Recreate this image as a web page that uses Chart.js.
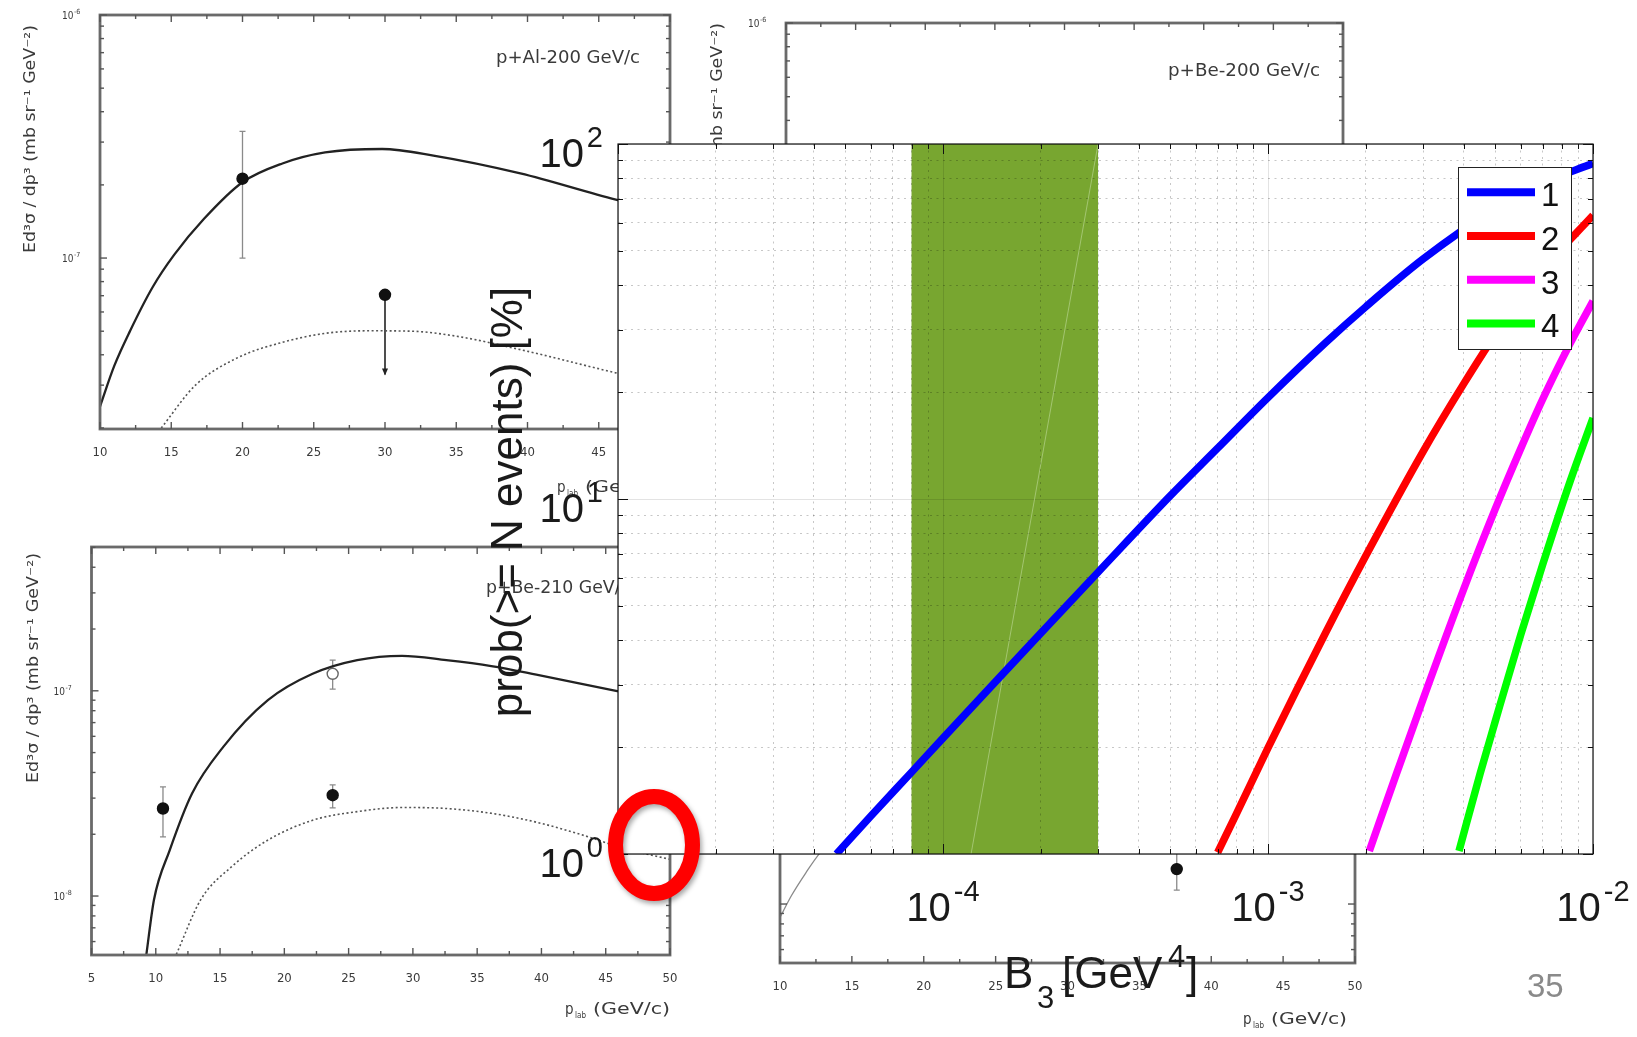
<!DOCTYPE html>
<html>
<head>
<meta charset="utf-8">
<title>prob(&gt;= N events) vs B3</title>
<script src="https://cdn.jsdelivr.net/npm/chart.js@4.4.1/dist/chart.umd.min.js"></script>
<style>
  html, body { margin: 0; padding: 0; background: #fff; }
  body { width: 1637px; height: 1037px; position: relative; overflow: hidden; }
  canvas { position: absolute; left: 0; top: 0; }
  .scan { filter: blur(0.75px); }
</style>
</head>
<body>
<canvas id="scanAl200" class="scan" width="1637" height="1037"></canvas>
<canvas id="scanBe200" class="scan" width="1637" height="1037"></canvas>
<canvas id="scanBe210" class="scan" width="1637" height="1037"></canvas>
<canvas id="scanBeLow" class="scan" width="1637" height="1037"></canvas>
<canvas id="probChart" width="1637" height="1037"></canvas>
<script>
// ---- probability of at least N events vs B3 ----
const b3N1 = [4.7e-5, 6e-5, 8e-5, 1e-4, 1.5e-4, 2e-4, 3e-4, 5e-4, 7e-4, 1e-3, 1.5e-3, 2e-3, 3e-3, 5e-3, 7e-3, 1e-2];
const probN1 = [1.0, 1.28, 1.70, 2.12, 3.16, 4.19, 6.22, 10.2, 13.9, 19.3, 27.5, 34.8, 47.4, 65.7, 77.6, 88.2];
const b3N2 = [7e-4, 8e-4, 1e-3, 1.5e-3, 2e-3, 3e-3, 4e-3, 5e-3, 7e-3, 1e-2];
const probN2 = [1.01, 1.30, 1.99, 4.18, 6.92, 13.6, 21.1, 29.0, 44.1, 63.0];
const b3N3 = [2.05e-3, 2.5e-3, 3e-3, 4e-3, 5e-3, 6e-3, 7e-3, 8.5e-3, 1e-2];
const probN3 = [1.02, 1.71, 2.73, 5.57, 9.36, 13.9, 19.1, 27.4, 36.1];
const b3N4 = [3.87e-3, 4.5e-3, 5e-3, 6e-3, 7e-3, 8.5e-3, 1e-2];
const probN4 = [1.02, 1.69, 2.36, 4.16, 6.53, 11.2, 16.9];

const seriesLabels = ['1', '2', '3', '4'];
const seriesColors = ['#0000ff', '#ff0000', '#ff00ff', '#00ff00'];

// shaded B3 interval and the thin seam running across it
const b3Band = [8e-5, 3e-4];
const b3Seam = [3e-4, 1.22e-4];
const probSeam = [100, 1];

const xDecades = [-5, -4, -3, -2];
const yDecades = [0, 1, 2];
const xLabelDecades = [-4, -3, -2];
const yLabelDecades = [0, 1, 2];
const minorMultiples = [2, 3, 4, 5, 6, 7, 8, 9];

// ---- cross-section panels in the background ----
const alSolidP = [10, 11, 12.1, 13.7, 15.2, 17.3, 20, 22.8, 25.8, 29.8, 33.4, 39.5, 46.2, 50];
const alSolidSig = [2.45e-8, 3.6e-8, 5.0e-8, 7.6e-8, 1.03e-7, 1.45e-7, 2.05e-7, 2.45e-7, 2.72e-7, 2.81e-7, 2.64e-7, 2.23e-7, 1.74e-7, 1.55e-7];
const alDotP = [14.3, 16.7, 19.7, 22.8, 25.8, 28.9, 31.9, 35, 39.5, 46.2, 50];
const alDotSig = [2.0e-8, 3.0e-8, 3.9e-8, 4.5e-8, 4.9e-8, 5.02e-8, 5.0e-8, 4.77e-8, 4.2e-8, 3.37e-8, 3.0e-8];
const alPointP = [20, 30];
const alPointSig = [2.12e-7, 7.06e-8];
const alErrLow = [1.0e-7, 3.32e-8];
const alErrHigh = [3.32e-7, 7.06e-8];
const alUpperLimit = [false, true];

const be210SolidP = [9.27, 9.86, 11.08, 12.82, 15.25, 18.72, 22.2, 25.67, 29.15, 32.6, 36.1, 39.6, 45.8, 50];
const be210SolidSig = [5.2e-9, 9.6e-9, 1.67e-8, 3.16e-8, 5.33e-8, 9.0e-8, 1.21e-7, 1.41e-7, 1.48e-7, 1.41e-7, 1.32e-7, 1.2e-7, 1.0e-7, 8.9e-8];
const be210DotP = [11.6, 13.5, 15.9, 18.7, 22.2, 25.7, 29.2, 32.6, 36.1, 39.6, 43, 46.5, 50];
const be210DotSig = [5.2e-9, 9.6e-9, 1.39e-8, 1.87e-8, 2.34e-8, 2.58e-8, 2.70e-8, 2.67e-8, 2.53e-8, 2.29e-8, 2.0e-8, 1.7e-8, 1.51e-8];
const be210PointP = [10.56, 23.76, 23.76];
const be210PointSig = [2.67e-8, 3.10e-8, 1.21e-7];
const be210ErrLow = [1.94e-8, 2.69e-8, 1.02e-7];
const be210ErrHigh = [3.4e-8, 3.48e-8, 1.41e-7];
const be210Open = [false, false, true];

const beLowP = [10, 10.8, 11.8, 12.8, 14.5, 17];
const beLowSig = [8.6e-9, 1.1e-8, 1.42e-8, 1.78e-8, 2.3e-8, 3.0e-8];
const beLowPointP = [37.6];
const beLowPointSig = [1.48e-8];
const beLowErrLow = [1.17e-8];
const beLowErrHigh = [1.8e-8];

const pLabTicks10 = [10, 15, 20, 25, 30, 35, 40, 45, 50];
const pLabTicks5 = [5, 10, 15, 20, 25, 30, 35, 40, 45, 50];

const mainFont = "'Liberation Sans', Arial, Helvetica, sans-serif";
const scanFont = "'DejaVu Sans Condensed', 'Liberation Sans Narrow', 'DejaVu Sans', sans-serif";
const W = 1637, H = 1037;

function pairs(xs, ys) {
  return xs.map((v, i) => ({ x: v, y: ys[i] }));
}

// draw text squeezed/stretched to a given width
function fitText(ctx, text, x, y, width) {
  const w = ctx.measureText(text).width;
  ctx.save();
  ctx.translate(x, y);
  ctx.scale(width / w, 1);
  ctx.fillText(text, 0, 0);
  ctx.restore();
}

// ---------- background panels ----------
const panelDecor = {
  scanAl200: {
    xTicks: pLabTicks10, yDecades: [-8, -7, -6], yLabels: [-7, -6],
    title: ['p+Al-200 GeV/c', 496, 63, 144],
    yTitle: [30, 139, 228], xTitle: [557, 492, 105],
    points: [alPointP, alPointSig, alErrLow, alErrHigh, alUpperLimit]
  },
  scanBe200: {
    xTicks: pLabTicks10, yDecades: [-8, -7, -6], yLabels: [-6],
    title: ['p+Be-200 GeV/c', 1168, 76, 152],
    yTitle: [717, 137, 228], xTitle: null, points: null
  },
  scanBe210: {
    xTicks: pLabTicks5, yDecades: [-9, -8, -7], yLabels: [-8, -7],
    title: ['p+Be-210 GeV/c', 486, 593, 144],
    yTitle: [33, 668, 230], xTitle: [565, 1014, 105],
    points: [be210PointP, be210PointSig, be210ErrLow, be210ErrHigh, null]
  },
  scanBeLow: {
    xTicks: pLabTicks10, yDecades: [-9, -8, -7], yLabels: [],
    title: null, yTitle: null, xTitle: [1243, 1024, 104],
    points: [beLowPointP, beLowPointSig, beLowErrLow, beLowErrHigh, null]
  }
};

const scanFrame = {
  id: 'scanFrame',
  beforeDatasetsDraw(chart) {
    const d = panelDecor[chart.canvas.id];
    if (!d.points) return;
    const { ctx } = chart;
    const x = chart.scales.x, y = chart.scales.y;
    const [ps, sig, lo, hi, limit] = d.points;
    ctx.save();
    ps.forEach((p, i) => {
      const px = x.getPixelForValue(p);
      if (limit && limit[i]) {
        // upper limit: line with a small arrow head
        const y0 = y.getPixelForValue(sig[i]), y1 = y.getPixelForValue(lo[i]);
        ctx.strokeStyle = '#222'; ctx.fillStyle = '#222'; ctx.lineWidth = 1.6;
        ctx.beginPath(); ctx.moveTo(px, y0); ctx.lineTo(px, y1); ctx.stroke();
        ctx.beginPath(); ctx.moveTo(px - 3, y1 - 6); ctx.lineTo(px + 3, y1 - 6); ctx.lineTo(px, y1 + 1); ctx.closePath(); ctx.fill();
      } else {
        const y0 = y.getPixelForValue(hi[i]), y1 = y.getPixelForValue(lo[i]);
        ctx.strokeStyle = '#8a8a8a'; ctx.lineWidth = 1.3;
        ctx.beginPath();
        ctx.moveTo(px, y0); ctx.lineTo(px, y1);
        ctx.moveTo(px - 3, y0); ctx.lineTo(px + 3, y0);
        ctx.moveTo(px - 3, y1); ctx.lineTo(px + 3, y1);
        ctx.stroke();
      }
    });
    ctx.restore();
  },
  afterDraw(chart) {
    const d = panelDecor[chart.canvas.id];
    const { ctx, chartArea: a } = chart;
    const x = chart.scales.x, y = chart.scales.y;
    ctx.save();
    ctx.strokeStyle = '#6a6a6a';
    ctx.lineWidth = 2.8;
    ctx.strokeRect(a.left, a.top, a.right - a.left, a.bottom - a.top);

    ctx.strokeStyle = '#555';
    ctx.lineWidth = 1.4;
    const tick = (px, py, dx, dy) => { ctx.beginPath(); ctx.moveTo(px, py); ctx.lineTo(px + dx, py + dy); ctx.stroke(); };
    d.xTicks.forEach((v, i) => {
      const px = x.getPixelForValue(v);
      tick(px, a.bottom, 0, -7); tick(px, a.top, 0, 7);
      if (i < d.xTicks.length - 1) {
        const pm = x.getPixelForValue((v + d.xTicks[i + 1]) / 2);
        tick(pm, a.bottom, 0, -4); tick(pm, a.top, 0, 4);
      }
    });
    d.yDecades.forEach(dec => {
      for (let m = 1; m <= 9; m++) {
        const v = m * Math.pow(10, dec);
        if (v < y.min || v > y.max) continue;
        const py = y.getPixelForValue(v);
        const len = m === 1 ? 7 : 4;
        tick(a.left, py, len, 0); tick(a.right, py, -len, 0);
      }
    });

    ctx.fillStyle = '#3a3a3a';
    ctx.textBaseline = 'alphabetic';
    ctx.textAlign = 'left';
    ctx.font = `13px ${scanFont}`;
    d.xTicks.forEach(v => {
      const s = String(v);
      const w = ctx.measureText(s).width;
      ctx.fillText(s, x.getPixelForValue(v) - w / 2, a.bottom + 27);
    });
    d.yLabels.forEach(dec => {
      const py = y.getPixelForValue(Math.pow(10, dec));
      ctx.font = `10px ${scanFont}`;
      ctx.fillText('10', a.left - 38, py + 4);
      ctx.font = `7px ${scanFont}`;
      ctx.fillText(String(dec), a.left - 26, py - 1);
    });
    if (d.title) {
      ctx.font = `17px ${scanFont}`;
      fitText(ctx, d.title[0], d.title[1], d.title[2], d.title[3]);
    }
    if (d.yTitle) {
      ctx.save();
      ctx.translate(d.yTitle[0] + 5, d.yTitle[1]);
      ctx.rotate(-Math.PI / 2);
      ctx.font = `15px ${scanFont}`;
      const t = 'Ed³σ / dp³ (mb sr⁻¹ GeV⁻²)';
      fitText(ctx, t, -d.yTitle[2] / 2, 0, d.yTitle[2]);
      ctx.restore();
    }
    if (d.xTitle) {
      const [tx, ty, tw] = d.xTitle;
      ctx.font = `15px ${scanFont}`;
      ctx.fillText('p', tx, ty);
      ctx.font = `8px ${scanFont}`;
      ctx.fillText('lab', tx + 10, ty + 4);
      ctx.font = `15px ${scanFont}`;
      fitText(ctx, '(GeV/c)', tx + 28, ty, tw - 28);
    }
    ctx.restore();
  }
};

function scanPanel(id, area, xRange, yRange, datasets) {
  return new Chart(document.getElementById(id), {
    type: 'scatter',
    data: { datasets },
    options: {
      responsive: false,
      animation: false,
      events: [],
      layout: { padding: { left: area[0], top: area[1], right: W - area[2], bottom: H - area[3] } },
      scales: {
        x: { type: 'linear', display: false, min: xRange[0], max: xRange[1] },
        y: { type: 'logarithmic', display: false, min: yRange[0], max: yRange[1] }
      },
      plugins: { legend: { display: false }, tooltip: { enabled: false } }
    },
    plugins: [scanFrame]
  });
}

const solidStyle = { showLine: true, pointRadius: 0, borderColor: '#222222', borderWidth: 2.3, cubicInterpolationMode: 'monotone' };
const dottedStyle = { showLine: true, pointRadius: 0, borderColor: '#555555', borderWidth: 1.6, borderDash: [2, 2.5], cubicInterpolationMode: 'monotone' };
const markerStyle = (open) => ({
  showLine: false, pointRadius: 5.5, pointStyle: 'circle',
  pointBackgroundColor: open.map(o => o ? '#ffffff' : '#111111'),
  pointBorderColor: open.map(o => o ? '#666666' : '#111111'),
  pointBorderWidth: 1.4
});

scanPanel('scanAl200', [100, 15, 670, 429], [10, 50], [1.98e-8, 1e-6], [
  { data: pairs(alPointP, alPointSig), ...markerStyle([false, false]) },
  { data: pairs(alSolidP, alSolidSig), ...solidStyle },
  { data: pairs(alDotP, alDotSig), ...dottedStyle }
]);
scanPanel('scanBe200', [786, 23, 1343, 440], [10, 50], [1.98e-8, 1e-6], []);
scanPanel('scanBe210', [91.5, 547, 670, 955], [5, 50], [5.16e-9, 5.02e-7], [
  { data: pairs(be210PointP, be210PointSig), ...markerStyle(be210Open) },
  { data: pairs(be210SolidP, be210SolidSig), ...solidStyle },
  { data: pairs(be210DotP, be210DotSig), ...dottedStyle }
]);
scanPanel('scanBeLow', [780, 555, 1355, 963], [10, 50], [5.16e-9, 5.02e-7], [
  { data: pairs(beLowPointP, beLowPointSig), ...markerStyle([false]) },
  { data: pairs(beLowP, beLowSig), showLine: true, pointRadius: 0, borderColor: '#8a8a8a', borderWidth: 1.3, cubicInterpolationMode: 'monotone' }
]);

// ---------- main probability chart ----------
function logTicks(decades) {
  const t = [];
  decades.forEach((d, i) => {
    const base = Math.pow(10, d);
    t.push({ value: base, major: true });
    if (i < decades.length - 1) minorMultiples.forEach(m => t.push({ value: m * base, major: false }));
  });
  return t;
}

const gridColor = (c) => (c.tick && c.tick.major ? 'rgba(0,0,0,0.11)' : 'rgba(0,0,0,0.22)');
const gridDash = (c) => (c.tick && c.tick.major ? [] : [2, 4.5]);

function powerLabel(ctx, exp, px, baseY, align) {
  ctx.font = `40px ${mainFont}`;
  const wBase = ctx.measureText('10').width;
  ctx.font = `29px ${mainFont}`;
  const sup = String(exp);
  const wSup = ctx.measureText(sup).width;
  const total = wBase + 3 + wSup;
  const left = align === 'center' ? px - total / 2 : px - total;
  ctx.font = `40px ${mainFont}`;
  ctx.fillText('10', left, baseY);
  ctx.font = `29px ${mainFont}`;
  ctx.fillText(sup, left + wBase + 3, baseY - 20);
}

const probDecor = {
  id: 'probDecor',
  beforeDraw(chart) {
    const { ctx, chartArea: a, scales: { x } } = chart;
    ctx.save();
    ctx.fillStyle = '#ffffff';
    ctx.fillRect(a.left, a.top, a.right - a.left, a.bottom - a.top);
    const x0 = x.getPixelForValue(b3Band[0]);
    const x1 = x.getPixelForValue(b3Band[1]);
    ctx.fillStyle = '#78a630';
    ctx.fillRect(x0, a.top, x1 - x0, a.bottom - a.top);
    ctx.restore();
  },
  afterDraw(chart) {
    const { ctx, chartArea: a } = chart;
    const x = chart.scales.x, y = chart.scales.y;
    ctx.save();

    // box and inward ticks on all four sides
    ctx.strokeStyle = '#111';
    ctx.lineWidth = 1.2;
    ctx.strokeRect(a.left, a.top, a.right - a.left, a.bottom - a.top);
    ctx.lineWidth = 1;
    x.ticks.forEach(t => {
      const px = Math.round(x.getPixelForValue(t.value)) + 0.5;
      const len = t.major ? 10 : 5;
      ctx.beginPath();
      ctx.moveTo(px, a.bottom); ctx.lineTo(px, a.bottom - len);
      ctx.moveTo(px, a.top); ctx.lineTo(px, a.top + len);
      ctx.stroke();
    });
    y.ticks.forEach(t => {
      const py = Math.round(y.getPixelForValue(t.value)) + 0.5;
      const len = t.major ? 10 : 5;
      ctx.beginPath();
      ctx.moveTo(a.left, py); ctx.lineTo(a.left + len, py);
      ctx.moveTo(a.right, py); ctx.lineTo(a.right - len, py);
      ctx.stroke();
    });

    // tick labels
    ctx.fillStyle = '#1a1a1a';
    ctx.textAlign = 'left';
    ctx.textBaseline = 'alphabetic';
    xLabelDecades.forEach(d => powerLabel(ctx, d, x.getPixelForValue(Math.pow(10, d)), a.bottom + 67, 'center'));
    yLabelDecades.forEach(d => powerLabel(ctx, d, 603, y.getPixelForValue(Math.pow(10, d)) + 23, 'right'));

    // axis titles
    ctx.save();
    ctx.translate(522, 502);
    ctx.rotate(-Math.PI / 2);
    ctx.textAlign = 'center';
    ctx.font = `44px ${mainFont}`;
    ctx.fillText('prob(>= N events) [%]', 0, 0);
    ctx.restore();

    ctx.font = `44px ${mainFont}`;
    ctx.fillText('B', 1004, 988);
    ctx.font = `31px ${mainFont}`;
    ctx.fillText('3', 1037, 1008);
    ctx.font = `44px ${mainFont}`;
    ctx.fillText('[GeV', 1062, 988);
    ctx.font = `31px ${mainFont}`;
    ctx.fillText('4', 1168, 967);
    ctx.font = `44px ${mainFont}`;
    ctx.fillText(']', 1186, 988);

    // legend box
    const lx = 1458, ly = 167, lw = 113, lh = 182;
    ctx.fillStyle = '#ffffff';
    ctx.fillRect(lx, ly, lw, lh);
    ctx.strokeStyle = '#222';
    ctx.lineWidth = 1;
    ctx.strokeRect(lx + 0.5, ly + 0.5, lw, lh);
    chart.data.datasets.slice(0, seriesLabels.length).forEach((ds, i) => {
      const ry = 192.3 + i * 43.7;
      ctx.strokeStyle = ds.borderColor;
      ctx.lineWidth = 8;
      ctx.beginPath(); ctx.moveTo(1467, ry); ctx.lineTo(1535, ry); ctx.stroke();
      ctx.fillStyle = '#111';
      ctx.font = `33px ${mainFont}`;
      ctx.fillText(ds.label, 1541, ry + 14);
    });

    // red ring marking the origin corner
    ctx.save();
    ctx.shadowColor = 'rgba(0,0,0,0.35)';
    ctx.shadowBlur = 5;
    ctx.shadowOffsetX = 2;
    ctx.shadowOffsetY = 3;
    ctx.strokeStyle = '#ff0000';
    ctx.lineWidth = 15;
    ctx.beginPath();
    ctx.ellipse(654, 845, 38.5, 48.5, 0, 0, Math.PI * 2);
    ctx.stroke();
    ctx.restore();

    // slide number
    ctx.fillStyle = '#8a8a8a';
    ctx.font = `33px ${mainFont}`;
    ctx.fillText('35', 1527, 997);
    ctx.restore();
  }
};

const curveSets = [[b3N1, probN1], [b3N2, probN2], [b3N3, probN3], [b3N4, probN4]].map(([xs, ys], i) => ({
  label: seriesLabels[i],
  data: pairs(xs, ys),
  showLine: true,
  borderColor: seriesColors[i],
  backgroundColor: seriesColors[i],
  borderWidth: 7.5,
  pointRadius: 0,
  cubicInterpolationMode: 'monotone',
  clip: 0
}));

new Chart(document.getElementById('probChart'), {
  type: 'scatter',
  data: {
    datasets: [
      ...curveSets,
      {
        label: 'seam',
        data: pairs(b3Seam, probSeam),
        showLine: true,
        borderColor: 'rgba(215,235,190,0.45)',
        borderWidth: 1,
        pointRadius: 0,
        clip: 0
      }
    ]
  },
  options: {
    responsive: false,
    animation: false,
    events: [],
    layout: { padding: { left: 618, top: 144, right: W - 1593, bottom: H - 854 } },
    scales: {
      x: {
        type: 'logarithmic', min: 1e-5, max: 1e-2,
        afterBuildTicks: (s) => { s.ticks = logTicks(xDecades); },
        ticks: { display: false },
        grid: { drawTicks: false, color: gridColor, lineWidth: 1 },
        border: { display: false, dash: gridDash }
      },
      y: {
        type: 'logarithmic', min: 1, max: 100,
        afterBuildTicks: (s) => { s.ticks = logTicks(yDecades); },
        ticks: { display: false },
        grid: { drawTicks: false, color: gridColor, lineWidth: 1 },
        border: { display: false, dash: gridDash }
      }
    },
    plugins: { legend: { display: false }, tooltip: { enabled: false } }
  },
  plugins: [probDecor]
});
</script>
</body>
</html>
